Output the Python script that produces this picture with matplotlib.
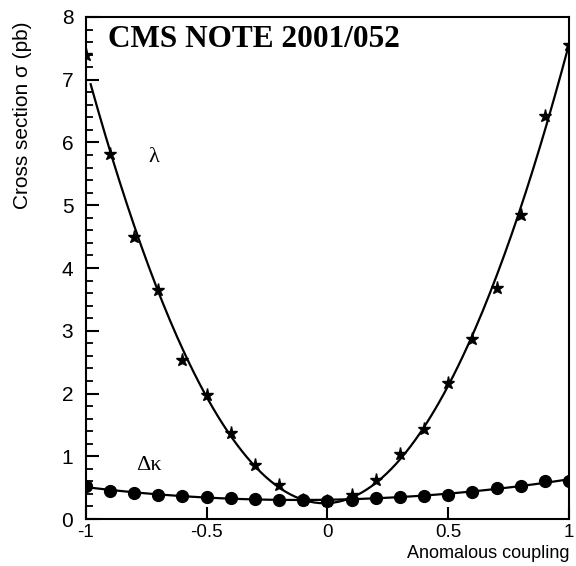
import numpy as np
import matplotlib.pyplot as plt

# coupling values
coupling = [-1.0, -0.9, -0.8, -0.7, -0.6, -0.5, -0.4, -0.3, -0.2, -0.1, 0.0,
            0.1, 0.2, 0.3, 0.4, 0.5, 0.6, 0.7, 0.8, 0.9, 1.0]
# cross section vs lambda (pb)
xs_lambda = [7.40, 5.82, 4.50, 3.65, 2.53, 1.98, 1.37, 0.86, 0.54, 0.31, 0.28,
             0.38, 0.62, 1.03, 1.43, 2.17, 2.87, 3.68, 4.85, 6.43, 7.55]
# cross section vs delta kappa (pb)
xs_kappa = [0.53, 0.45, 0.41, 0.38, 0.37, 0.35, 0.33, 0.32, 0.31, 0.31, 0.29,
            0.31, 0.34, 0.35, 0.37, 0.39, 0.43, 0.50, 0.53, 0.60, 0.61]

fig = plt.figure(figsize=(5.76, 5.66), dpi=100)
ax = fig.add_axes([0.149, 0.083, 0.839, 0.887])

# quadratic fits drawn as smooth curves
xx = np.linspace(-0.98, 1.0, 200)
xk = np.linspace(-1.0, 1.0, 200)
p_l = np.polyfit(coupling, xs_lambda, 2)
p_k = np.polyfit(coupling, xs_kappa, 2)
ax.plot(xx, np.polyval(p_l, xx), color='black', lw=1.6)
ax.plot(xk, np.polyval(p_k, xk), color='black', lw=1.6)

ax.plot(coupling, xs_lambda, linestyle='none', marker='*', color='black', ms=9.5)
ax.plot(coupling, xs_kappa, linestyle='none', marker='o', color='black', ms=8.5)

ax.set_xlim(-1, 1)
ax.set_ylim(0, 8)
ax.set_xticks([-1, -0.5, 0, 0.5, 1])
ax.set_xticklabels(['-1', '-0.5', '0', '0.5', '1'])
ax.set_yticks(range(9))
ax.set_yticks(np.arange(0, 8.01, 0.2), minor=True)

ax.tick_params(axis='both', which='both', direction='in', top=False, right=False)
ax.tick_params(axis='both', which='major', length=9, width=1.5)
ax.tick_params(axis='y', which='major', pad=9, labelsize=15)
ax.tick_params(axis='x', which='major', pad=3.5, labelsize=13.5)
ax.tick_params(axis='y', which='minor', length=5, width=1.3)
for s in ax.spines.values():
    s.set_linewidth(1.5)

for lab in ax.get_xticklabels() + ax.get_yticklabels():
    lab.set_family('Liberation Sans')

ax.set_ylabel('Cross section σ (pb)', fontsize=15, family='Liberation Sans')
ax.yaxis.label.set_va('center')
ax.yaxis.set_label_coords(-0.132, 0.805)
ax.set_xlabel('Anomalous coupling', fontsize=13, family='Liberation Sans', loc='right')
ax.xaxis.set_label_coords(1.0, -0.052)

ax.text(-0.91, 7.64, 'CMS NOTE 2001/052', fontsize=22.5, fontweight='bold',
        family='Liberation Serif', va='center', ha='left')
ax.text(-0.72, 5.76, 'λ', fontsize=16, family='Liberation Serif', va='center', ha='center')
ax.text(-0.74, 0.85, 'Δκ', fontsize=16, family='Liberation Serif', va='center', ha='center')

fig.savefig('out.png', dpi=100)
